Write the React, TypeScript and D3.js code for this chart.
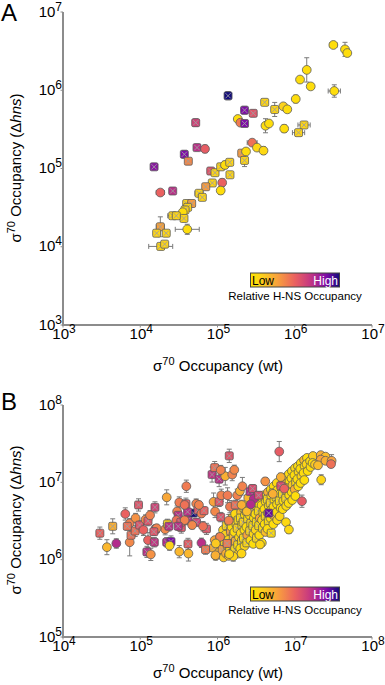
import React, { useEffect } from 'react';
import * as d3 from 'd3';

// ---- Panel A : sigma70 occupancy, wt vs delta-hns ----
const aWt = [
  3.16e6, 4.47e6, 4.79e6, 1.43e6, 1.17e6, 1.61e6, 3.25e6, 1.03e6, 1.37e5, 4.08e5,
  2.24e5, 2.9e5, 5.5e5, 7.11e5, 8.01e5, 1.83e5, 1.98e5, 2.24e5, 4.18e5, 4.64e5,
  7.3e5, 1.32e6, 1.12e6, 5.22e4, 5.43e4, 6.89e4, 3.72e4, 4.19e4, 1.51e4, 1.82e4,
  2.63e4, 8.17e4, 9.29e4, 1.1e5, 1.25e5, 1.44e5, 1.45e5, 2.06e5, 2.34e5, 2.24e5,
  2.81e5, 3.24e5, 3.94e5, 8.57e4, 1.15e5, 1.1e5, 7.04e4, 5.77e4, 6.36e4, 3.99e4,
  4.63e4, 4.11e4, 3.8e4, 3.55e4, 3.68e4, 2.63e4, 2.93e4, 1.82e4, 1.63e4, 2.17e4,
  4.06e4, 1.84e4, 2.07e4,
];
const aHns = [
  3.79e6, 3.33e6, 2.99e6, 1.82e6, 1.37e6, 1.12e6, 9.78e5, 7.73e5, 8.51e5, 7.01e5,
  5.56e5, 5.07e5, 5.68e5, 6.23e5, 5.7e5, 4.29e5, 3.85e5, 3.76e5, 3.52e5, 3.76e5,
  3.23e5, 3.6e5, 2.87e5, 3.85e5, 1.85e5, 1.78e5, 1.52e5, 1.24e5, 1.05e5, 4.93e4,
  5.16e4, 9.29e4, 8.84e4, 1.05e5, 1.11e5, 1.2e5, 8.31e4, 1.57e5, 1.65e5, 1.27e5,
  2.14e5, 1.85e5, 1.69e5, 6.53e4, 6.59e4, 5.23e4, 5.85e4, 4.82e4, 4.28e4, 3.57e4,
  3.57e4, 3.19e4, 2.95e4, 2.76e4, 2.3e4, 2.49e4, 2.49e4, 1.8e4, 1.49e4, 1.49e4,
  1.67e4, 1.01e4, 1.08e4,
];
// relative H-NS occupancy, 0 = low, 1 = high
const aRel = [
  .05, .05, .05, .05, .05, .05, .05, .05, 1.0, .1,
  .85, .55, .1, .12, .05, .05, .42, .85, .05, .05,
  .05, .1, .1, .62, .7, .52, .85, .38, .82, .5,
  .7, .55, .1, .1, .05, .1, .1, .32, .05, .1,
  .45, .08, .08, .1, .5, .05, .32, .1, .1, .1,
  .32, .1, .1, .05, .1, .1, .1, .3, .1, .1,
  .05, .1, .1,
];
const aMark = ['oooooooo', 'xxxxx', 'oooo', 'x', 'ooo', 'xxxx', 'o', 'xxx', 'o', 'xxxx', 'o', 'xxx', 'o', 'x', 'ooo', 'x', 'oo', 'xxxxxxx', 'o', 'xxxxxx', 'o', 'xx'].join('').split('');
// error bars as fold change
const aErrX = [
  1.12, 1, 1, 1, 1, 1, 1.2, 1, 1, 1,
  1, 1, 1, 1, 1, 1, 1, 1, 1, 1,
  1, 1.2, 1.2, 1, 1, 1, 1, 1, 1, 1.13,
  1, 1, 1, 1, 1, 1, 1, 1, 1, 1,
  1.16, 1, 1, 1, 1, 1, 1, 1.13, 1, 1,
  1, 1, 1, 1, 1, 1.16, 1, 1.13, 1, 1,
  1.43, 1.43, 1,
];
const aErrY = [
  1.06, 1.23, 1.1, 1.43, 1.08, 1, 1.2, 1.12, 1.13, 1,
  1.12, 1.09, 1.23, 1, 1, 1, 1.09, 1, 1.23, 1,
  1.12, 1.09, 1.09, 1.12, 1, 1.12, 1.12, 1.09, 1.09, 1.09,
  1.09, 1, 1, 1.09, 1.12, 1, 1, 1, 1, 1.2,
  1, 1, 1.12, 1, 1.12, 1.12, 1, 1, 1, 1,
  1, 1.09, 1, 1, 1.09, 1, 1, 1.34, 1.09, 1,
  1.16, 1.09, 1,
];

// ---- Panel B : scattered promoters ----
const bWt = [
  3.0e4, 4.4e4, 3.7e4, 4.9e4, 6.4e4, 7.3e4, 7.3e4, 7.6e4, 8.7e4, 8.6e4,
  9.5e4, 9.8e4, 1.1e5, 1.17e5, 1.26e5, 1.34e5, 1.26e5, 1.52e5, 1.22e5, 1.37e5,
  1.55e5, 1.58e5, 2.1e5, 2.25e5, 2.35e5, 2.2e5, 2.5e5, 2.4e5, 2.2e5, 3.0e5,
  3.1e5, 3.2e5, 3.2e5, 3.4e5, 3.9e5, 3.95e5, 4.15e5, 4.15e5, 4.2e5, 4.9e5,
  5.3e5, 5.6e5, 6.2e5, 7.0e5, 7.2e5, 8.5e5, 9.2e5, 8.9e5, 9.3e5, 1.05e6,
  1.05e6, 1.12e6, 1.1e6, 1.26e6, 1.35e6, 1.4e6, 1.42e6, 1.55e6, 1.65e6, 1.45e6,
  1.7e6, 1.8e6, 1.95e6, 2.1e6, 2.05e6, 2.4e6, 2.5e6, 2.64e6, 2.85e6, 2.95e6,
  2.7e6, 3.4e6, 4.15e6, 4.6e6, 5.2e6, 6.3e6, 6.6e6, 6.6e6, 7.3e6, 1.24e7,
  8.4e6, 2.2e7, 2.17e7, 2.5e7, 2.17e7, 2.5e7, 1.83e7, 2.0e7, 3.0e7, 2.95e7,
  6.8e4, 1.63e5, 2.95e5, 3.35e5, 3.75e5, 5.35e5, 6.5e5, 4.1e5, 6.2e5, 6.7e5,
  1.5e5, 3.1e5, 4.7e5, 1.08e6, 1.33e6, 9.5e5, 1.6e6, 2.05e6, 3.75e5, 5.75e5,
  1.1e6, 3.55e6, 9.4e5, 1.42e6,
];
const bHns = [
  2.2e6, 2.7e6, 1.45e6, 1.62e6, 3.9e6, 1.68e6, 2.95e6, 2.07e6, 3.45e6, 2.35e6,
  5.1e6, 2.8e6, 2.42e6, 3.3e6, 3.15e6, 3.75e6, 1.79e6, 1.68e6, 1.26e6, 1.17e6,
  4.75e6, 2.47e6, 2.47e6, 2.9e6, 2.7e6, 1.68e6, 1.72e6, 1.52e6, 6.4e6, 4.2e6,
  3.75e6, 5.5e6, 1.27e6, 2.6e6, 5.3e6, 8.9e6, 3.25e6, 1.6e6, 1.2e6, 4.0e6,
  5.3e6, 4.4e6, 1.65e6, 1.35e6, 2.5e6, 1.26e7, 1.55e7, 5.6e6, 4.2e6, 1.1e7,
  5.6e6, 6.8e6, 3.55e6, 1.2e7, 6.8e6, 3.2e6, 2.2e7, 1.26e7, 1.45e7, 4.85e6,
  5.1e6, 6.8e6, 7.7e6, 8.9e6, 5.1e6, 4.2e6, 6.3e6, 7.6e6, 8.3e6, 6.1e6,
  5.2e6, 6.8e6, 1.03e7, 4.0e6, 7.1e6, 2.5e7, 1.17e7, 9.0e6, 8.3e6, 5.7e6,
  2.45e6, 1.08e7, 2.25e7, 2.15e7, 1.97e7, 1.9e7, 1.7e7, 1.66e7, 1.9e7, 1.72e7,
  2.7e6, 2.55e6, 3.25e6, 3.05e6, 3.25e6, 3.05e6, 2.7e6, 4.15e6, 3.95e6, 4.3e6,
  2.3e6, 2.7e6, 2.8e6, 1.97e6, 1.62e6, 1.62e6, 1.1e6, 1.2e6, 5.1e6, 5.1e6,
  1.44e7, 1.57e6, 1.14e6, 1.18e6,
];
const bRel = [
  .5, .25, .22, .72, .5, .38, .4, .45, .35, .45,
  .55, .55, .5, .38, .55, .4, .5, .68, .7, .35,
  .62, .7, .38, .1, .7, .72, .85, .12, .28, .4,
  .7, .42, .22, .55, .52, .42, .7, .52, .22, 1.0,
  .4, .55, .7, .42, .55, .68, .45, .3, .38, .7,
  .55, .4, .55, .25, .42, .4, .55, .4, .38, .42,
  .45, .4, .25, .4, .25, .2, .22, .72, .58, .72,
  .72, .58, .35, .88, .25, .52, .25, .58, .5, .52,
  .08, .1, .25, .2, .3, .25, .15, .2, .3, .45,
  .45, .4, .45, .55, .4, .62, .45, .7, .42, .5,
  .55, .7, .38, .4, .42, .15, .1, .1, .45, .4,
  .4, .1, .25, .1,
];
const bMark = ['xxoooooxox', 'xxooxooxxo', 'xxoxxxxooo', 'xooxxoxxox', 'oxoxxxxoox', 'xoxoooxooo', 'xooooooxxo', 'oxoxoooxoo', 'oooooooooo', 'xooxoxoxox', 'xxooxooooo', 'oooo'].join('').split('');
const bErrY = [
  1.2, 1.25, 1.25, 1.15, 1.2, 1.5, 1.15, 1.15, 1.15, 1.18,
  1.2, 1.15, 1.18, 1.15, 1.15, 1.15, 1.25, 1.15, 1.18, 1.2,
  1.18, 1.15, 1.18, 1.15, 1.15, 1.15, 1.18, 1.15, 1.25, 1.18,
  1.15, 1.18, 1.2, 1.18, 1.18, 1.2, 1.15, 1.18, 1.25, 1.1,
  1.15, 1.18, 1.15, 1.15, 1.18, 1.25, 1.2, 1.3, 1.2, 1.25,
  1.15, 1.2, 1.15, 1.3, 1.25, 1.2, 1.22, 1.2, 1.15, 1.2,
  1.15, 1.2, 1.15, 1.3, 1.15, 1.12, 1.15, 1.15, 1.12, 1.12,
  1.12, 1.12, 1.12, 1.08, 1.18, 1.35, 1.12, 1.12, 1.12, 1.2,
  1.12, 1.16, 1.08, 1.1, 1.08, 1.1, 1.08, 1.1, 1.2, 1.1,
  1.12, 1.12, 1.12, 1.12, 1.12, 1.12, 1.15, 1.12, 1.12, 1.12,
  1.12, 1.12, 1.12, 1.12, 1.15, 1.12, 1.15, 1.12, 1.12, 1.12,
  1.15, 1.12, 1.15, 1.15,
];

// ---- Panel B : dense low-H-NS band ----
const bandWt = [
  9.2e5, 8.9e5, 9.5e5,
  1.08e6, 1.12e6, 1.05e6,
  1.18e6, 1.22e6, 1.15e6, 1.2e6,
  1.3e6, 1.26e6, 1.34e6, 1.29e6,
  1.42e6, 1.47e6, 1.38e6, 1.44e6, 1.4e6,
  1.56e6, 1.52e6, 1.6e6, 1.54e6, 1.58e6,
  1.69e6, 1.74e6, 1.65e6, 1.71e6, 1.67e6,
  1.85e6, 1.8e6, 1.9e6, 1.83e6, 1.88e6,
  2.02e6, 1.98e6, 2.07e6, 2.0e6, 2.05e6, 1.97e6,
  2.2e6, 2.26e6, 2.15e6, 2.23e6, 2.17e6, 2.24e6,
  2.4e6, 2.35e6, 2.46e6, 2.37e6, 2.43e6, 2.4e6,
  2.64e6, 2.59e6, 2.7e6, 2.61e6, 2.67e6,
  2.9e6, 2.84e6, 2.96e6, 2.87e6, 2.93e6, 2.9e6,
  3.15e6, 3.22e6, 3.09e6, 3.18e6, 3.12e6, 3.2e6,
  3.45e6, 3.38e6, 3.52e6, 3.42e6, 3.48e6,
  3.8e6, 3.72e6, 3.88e6, 3.77e6, 3.84e6, 3.75e6,
  4.12e6, 4.2e6, 4.05e6, 4.15e6, 4.08e6, 4.18e6,
  4.5e6, 4.42e6, 4.6e6, 4.47e6, 4.55e6, 4.44e6,
  4.9e6, 4.98e6, 4.82e6, 4.94e6, 4.85e6, 4.96e6,
  5.35e6, 5.25e6, 5.45e6, 5.3e6, 5.4e6, 5.28e6,
  5.85e6, 5.95e6, 5.75e6, 5.9e6, 5.8e6, 5.92e6,
  6.44e6, 6.32e6, 6.56e6, 6.38e6,
  7.05e6, 7.18e6, 6.95e6, 7.12e6, 7.0e6,
  7.7e6, 7.58e6, 7.82e6, 7.65e6, 7.76e6, 7.7e6,
  8.4e6, 8.55e6, 8.28e6, 8.48e6, 8.33e6,
  9.2e6, 9.05e6, 9.35e6, 9.12e6, 9.28e6,
  1.01e7, 9.9e6, 1.03e7, 1.0e7, 1.02e7,
  1.1e7, 1.12e7, 1.08e7, 1.11e7,
  1.2e7, 1.18e7, 1.22e7, 1.19e7,
  1.32e7, 1.34e7, 1.3e7, 1.33e7,
  1.44e7, 1.42e7, 1.47e7,
  1.58e7, 1.6e7,
  1.72e7, 1.7e7,
];
const bandHns = [
  1.79e6, 1.42e6, 1.12e6,
  1.95e6, 1.55e6, 1.25e6,
  2.42e6, 1.72e6, 1.35e6, 1.07e6,
  2.75e6, 2.1e6, 1.55e6, 1.2e6,
  3.05e6, 2.35e6, 1.8e6, 1.4e6, 1.12e6,
  3.45e6, 2.65e6, 2.02e6, 1.6e6, 1.26e6,
  3.9e6, 2.95e6, 2.28e6, 1.72e6, 1.37e6,
  3.25e6, 2.55e6, 1.95e6, 1.55e6, 1.2e6,
  4.1e6, 3.45e6, 2.8e6, 2.2e6, 1.72e6, 1.4e6,
  4.65e6, 3.78e6, 3.05e6, 2.42e6, 1.9e6, 1.5e6,
  5.2e6, 4.25e6, 3.35e6, 2.65e6, 2.08e6, 1.65e6,
  4.8e6, 3.78e6, 2.95e6, 2.35e6, 1.79e6,
  5.4e6, 4.38e6, 3.45e6, 2.75e6, 2.15e6, 1.6e6,
  5.9e6, 4.8e6, 3.9e6, 3.05e6, 2.42e6, 1.9e6,
  5.2e6, 4.25e6, 3.45e6, 2.75e6, 2.08e6,
  6.2e6, 5.08e6, 4.1e6, 3.25e6, 2.55e6, 1.65e6,
  6.85e6, 5.6e6, 4.5e6, 3.65e6, 2.88e6, 2.28e6,
  7.5e6, 6.05e6, 4.95e6, 4.0e6, 3.15e6, 2.5e6,
  8.1e6, 6.65e6, 5.4e6, 4.38e6, 3.45e6, 2.2e6,
  8.9e6, 7.3e6, 5.9e6, 4.8e6, 3.78e6, 2.88e6,
  9.8e6, 7.9e6, 6.45e6, 5.2e6, 4.1e6, 3.25e6,
  7.05e6, 5.75e6, 4.65e6, 3.65e6,
  1.07e7, 8.6e6, 7.05e6, 5.75e6, 4.5e6,
  1.17e7, 9.5e6, 7.7e6, 6.2e6, 4.95e6, 3.05e6,
  1.28e7, 1.04e7, 8.45e6, 6.85e6, 5.4e6,
  1.4e7, 1.13e7, 9.2e6, 7.5e6, 5.9e6,
  1.53e7, 1.24e7, 1.0e7, 8.1e6, 6.65e6,
  1.62e7, 1.36e7, 1.1e7, 8.9e6,
  1.78e7, 1.49e7, 1.2e7, 9.8e6,
  1.94e7, 1.62e7, 1.32e7, 1.07e7,
  2.07e7, 1.72e7, 1.4e7,
  1.88e7, 1.58e7,
  2.19e7, 1.78e7,
];
const bandRel = [
  .3, .25, .2,
  .1, .35, .2,
  .1, .08, .3, .15,
  .08, .12, .05, .25,
  .06, .3, .1, .08, .2,
  .1, .05, .2, .08, .12,
  .08, .1, .05, .25, .06,
  .05, .1, .08, .05, .15,
  .2, .06, .05, .1, .08, .05,
  .08, .05, .12, .06, .05, .1,
  .05, .1, .06, .05, .3, .08,
  .06, .05, .08, .1, .05,
  .05, .25, .05, .06, .08, .05,
  .1, .05, .06, .05, .1, .08,
  .05, .06, .28, .05, .06,
  .08, .05, .06, .1, .05, .06,
  .05, .08, .05, .06, .05, .2,
  .25, .05, .06, .08, .05, .06,
  .06, .05, .1, .05, .06, .05,
  .05, .08, .05, .06, .22, .05,
  .08, .05, .06, .05, .06, .08,
  .05, .06, .05, .1,
  .15, .05, .08, .05, .06,
  .05, .2, .05, .06, .05, .08,
  .06, .05, .08, .05, .06,
  .05, .06, .15, .05, .06,
  .08, .05, .06, .25, .05,
  .05, .08, .05, .06,
  .06, .05, .1, .05,
  .2, .05, .06, .05,
  .05, .1, .05,
  .06, .05,
  .15, .05,
];
const bandMark = ['oxo', 'xoo', 'oxxo', 'xoxo', 'oxoxo', 'xoxxo', 'oxoxx', 'xxoxo', 'oxxoxo', 'xoxoxo', 'oxxoox', 'xoxxo', 'oxoxoo', 'xooxox', 'oxoxo', 'ooxoxo', 'xooxoo', 'oxooxo', 'ooxoox', 'oxooxo', 'ooxooo', 'oxoo', 'ooxoo', 'oooxoo', 'ooxoo', 'ooooo', 'ooxoo', 'oooo', 'oooo', 'oooo', 'ooo', 'oo', 'oo'].join('').split('');
const bandErrY = 1.08;

const aTicksX = [3, 4, 5, 6, 7];
const aTicksY = [3, 4, 5, 6, 7];
const bTicksX = [4, 5, 6, 7, 8];
const bTicksY = [5, 6, 7, 8];

const FONT = '"Liberation Sans", Arial, Helvetica, sans-serif';
const AXIS = '#8c8c8c';

const relColor = d3.scaleLinear<string>()
  .domain([0, 0.12, 0.3, 0.5, 0.68, 0.85, 1])
  .range(['#ffe500', '#fcd21c', '#f8a23c', '#ea6160', '#c23584', '#7e0ca8', '#120c7c'])
  .interpolate(d3.interpolateRgb)
  .clamp(true);

type Pt = { x: number; y: number; rel: number; mark: string; ex: number; ey: number };

const ptsA: Pt[] = aWt.map((v, i) => ({ x: v, y: aHns[i], rel: aRel[i], mark: aMark[i], ex: aErrX[i], ey: aErrY[i] }));
const ptsB: Pt[] = [
  ...bandWt.map((v, i) => ({ x: v, y: bandHns[i], rel: bandRel[i] ?? 0.05, mark: bandMark[i] ?? 'o', ex: 1, ey: bandErrY })),
  ...bWt.map((v, i) => ({ x: v, y: bHns[i], rel: bRel[i], mark: bMark[i] ?? 'o', ex: 1, ey: bErrY[i] ?? 1.1 })),
];

type PanelProps = {
  id: string; label: string; labelY: number; pts: Pt[];
  xExp: number[]; yExp: number[]; top: number; bottom: number;
  legendY: number; titleY: number; yTitleC: number;
};

const Panel = ({ id, label, labelY, pts, xExp, yExp, top, bottom, legendY, titleY, yTitleC }: PanelProps) => {
  const left = 63, right = 372;
  const x = d3.scaleLog().domain([10 ** xExp[0], 10 ** xExp[xExp.length - 1]]).range([left, right]);
  const y = d3.scaleLog().domain([10 ** yExp[0], 10 ** yExp[yExp.length - 1]]).range([bottom, top]);
  const cap = 2.5;
  const stops = d3.range(0, 1.0001, 0.05);

  return (
    <g fontFamily={FONT}>
      <defs>
        <linearGradient id={`grad-${id}`} x1="0" x2="1" y1="0" y2="0">
          {stops.map(s => <stop key={s} offset={s} stopColor={relColor(s)} />)}
        </linearGradient>
      </defs>
      <text x={1} y={labelY} fontSize={24}>{label}</text>

      {/* axes */}
      <line x1={left} x2={left} y1={top} y2={bottom + 1} stroke={AXIS} strokeWidth={2} />
      <line x1={left - 1} x2={right} y1={bottom} y2={bottom} stroke={AXIS} strokeWidth={2} />
      {xExp.map(e => (
        <g key={`x${e}`}>
          <line x1={x(10 ** e)} x2={x(10 ** e)} y1={bottom} y2={bottom + 2.5} stroke={AXIS} strokeWidth={1} />
          <text x={x(10 ** e) + 1} y={bottom + 14} fontSize={15} textAnchor="middle">
            10<tspan dy={-6} fontSize={12}>{e}</tspan>
          </text>
        </g>
      ))}
      {yExp.map(e => (
        <g key={`y${e}`}>
          <line x1={left - 2.5} x2={left} y1={y(10 ** e)} y2={y(10 ** e)} stroke={AXIS} strokeWidth={1} />
          <text x={62} y={y(10 ** e) + 4.5} fontSize={15} textAnchor="end">
            10<tspan dy={-6} fontSize={12}>{e}</tspan>
          </text>
        </g>
      ))}

      {/* axis titles */}
      <text x={218} y={titleY} fontSize={15} textAnchor="middle">
        σ<tspan dy={-6} fontSize={11}>70</tspan><tspan dy={6}> Occupancy (wt)</tspan>
      </text>
      <text transform={`translate(21,${yTitleC}) rotate(-90)`} fontSize={15} textAnchor="middle">
        σ<tspan dy={-6} fontSize={11}>70</tspan><tspan dy={6}> Occupancy (Δ</tspan><tspan fontStyle="italic">hns</tspan>)
      </text>

      {/* error bars */}
      <g stroke="#7a7a7a" strokeWidth={1} fill="none">
        {pts.map((p, i) => {
          const cx = x(p.x), cy = y(p.y);
          const parts: JSX.Element[] = [];
          if (p.ey > 1) {
            const y1 = y(p.y * p.ey), y2 = y(p.y / p.ey);
            parts.push(<line key="v" x1={cx} x2={cx} y1={y1} y2={y2} />);
            parts.push(<line key="v1" x1={cx - cap} x2={cx + cap} y1={y1} y2={y1} />);
            parts.push(<line key="v2" x1={cx - cap} x2={cx + cap} y1={y2} y2={y2} />);
          }
          if (p.ex > 1) {
            const x1 = x(p.x / p.ex), x2 = x(p.x * p.ex);
            parts.push(<line key="h" x1={x1} x2={x2} y1={cy} y2={cy} />);
            parts.push(<line key="h1" x1={x1} x2={x1} y1={cy - cap} y2={cy + cap} />);
            parts.push(<line key="h2" x1={x2} x2={x2} y1={cy - cap} y2={cy + cap} />);
          }
          return <g key={i}>{parts}</g>;
        })}
      </g>

      {/* markers */}
      <g>
        {pts.map((p, i) => {
          const cx = x(p.x), cy = y(p.y);
          const fill = relColor(p.rel);
          if (p.mark === 'x') {
            return (
              <g key={i} transform={`translate(${cx},${cy})`}>
                <rect x={-4} y={-4} width={8} height={8} rx={1.5} fill={fill} stroke="#5c5c5c" strokeWidth={0.8} />
                <path d="M-2.6,-2.6L2.6,2.6M-2.6,2.6L2.6,-2.6" stroke="#9e9e9e" strokeWidth={0.9} />
              </g>
            );
          }
          return <circle key={i} cx={cx} cy={cy} r={4.4} fill={fill} stroke="#5c5c5c" strokeWidth={0.8} />;
        })}
      </g>

      {/* legend */}
      <rect x={250.5} y={legendY} width={89} height={14} fill={`url(#grad-${id})`} stroke="#444" strokeWidth={1} />
      <text x={252} y={legendY + 11.5} fontSize={12} fill="#000">Low</text>
      <text x={338} y={legendY + 11.5} fontSize={12} fill="#fff" textAnchor="end">High</text>
      <text x={295} y={legendY + 27} fontSize={11.5} textAnchor="middle">Relative H-NS Occupancy</text>
    </g>
  );
};

const App = () => {
  useEffect(() => {
    document.body.style.margin = '0';
  }, []);
  return (
    <svg width={385} height={685} style={{ display: 'block', background: '#fff' }}>
      <Panel id="a" label="A" labelY={21} pts={ptsA} xExp={aTicksX} yExp={aTicksY}
        top={12} bottom={325} legendY={273} titleY={371} yTitleC={168} />
      <Panel id="b" label="B" labelY={410} pts={ptsB} xExp={bTicksX} yExp={bTicksY}
        top={405} bottom={637} legendY={587} titleY={678} yTitleC={520} />
    </svg>
  );
};

export default App;
